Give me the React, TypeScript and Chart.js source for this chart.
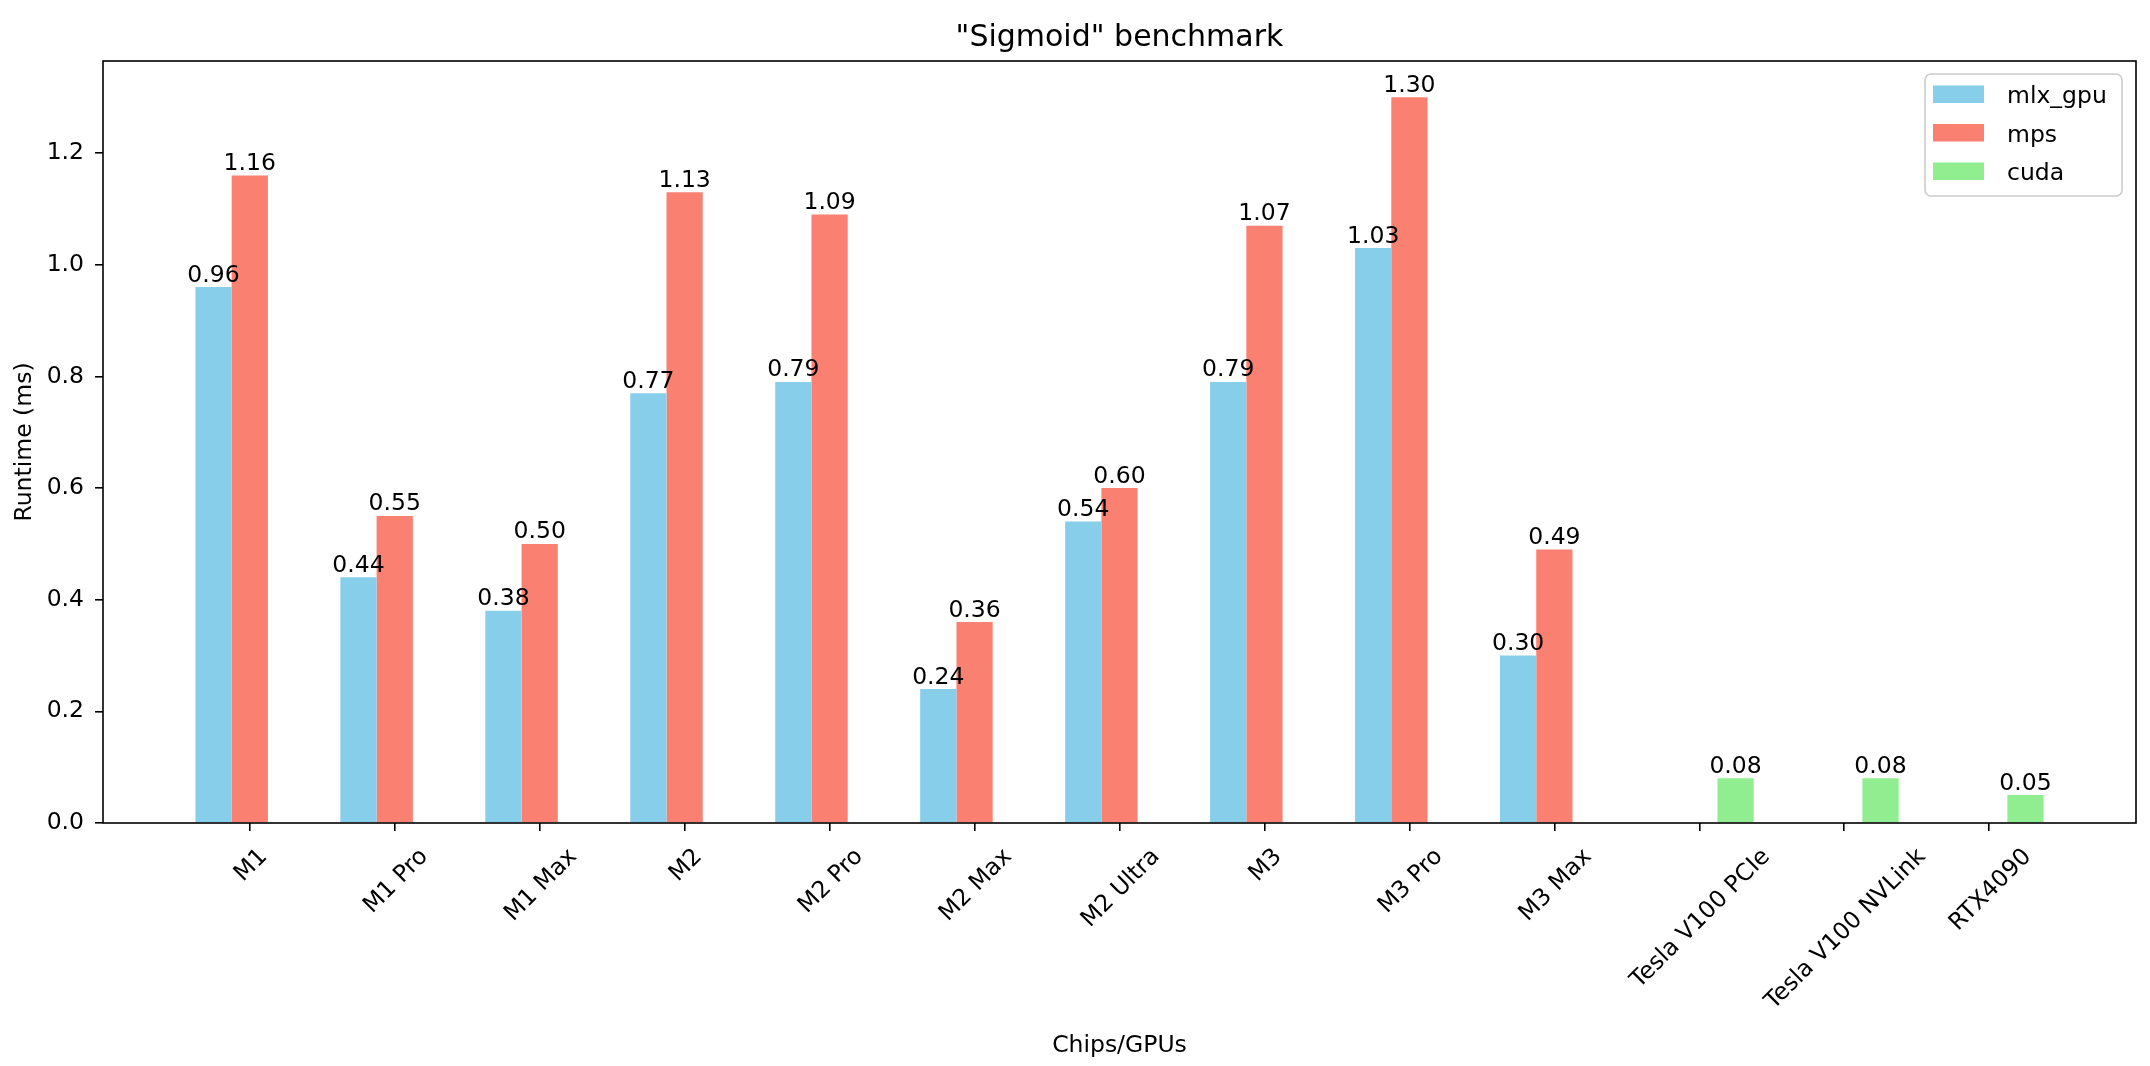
import React, { useRef, useEffect } from 'react';
import { Chart, registerables } from 'chart.js';
Chart.register(...registerables);

const categories = [
  'M1', 'M1 Pro', 'M1 Max', 'M2', 'M2 Pro', 'M2 Max', 'M2 Ultra',
  'M3', 'M3 Pro', 'M3 Max', 'Tesla V100 PCIe', 'Tesla V100 NVLink', 'RTX4090',
];
const mlxGpu = [0.96, 0.44, 0.38, 0.77, 0.79, 0.24, 0.54, 0.79, 1.03, 0.30, null, null, null];
const mps = [1.16, 0.55, 0.50, 1.13, 1.09, 0.36, 0.60, 1.07, 1.30, 0.49, null, null, null];
const cuda = [null, null, null, null, null, null, null, null, null, null, 0.08, 0.08, 0.05];
const yTicks = [0, 0.2, 0.4, 0.6, 0.8, 1.0, 1.2];

const FAMILY = '"DejaVu Sans"';
const FS = 23.5;
const FONT = `${FS}px ${FAMILY}`;

const toPoints = (arr: (number | null)[]) => arr.map((y, i) => ({ x: i, y }));

// подписи, рамка, заголовки и легенда — рисуем сами, как в matplotlib
const overlay = {
  id: 'overlay',
  afterDraw(chart: any) {
    const { ctx, chartArea: a, scales } = chart;
    ctx.save();
    ctx.fillStyle = '#000';

    // значения над столбцами
    ctx.font = FONT;
    ctx.textAlign = 'center';
    ctx.textBaseline = 'alphabetic';
    chart.data.datasets.forEach((ds: any, di: number) => {
      const meta = chart.getDatasetMeta(di);
      meta.data.forEach((bar: any, i: number) => {
        const v = ds.data[i].y;
        if (v == null) return;
        ctx.fillText(v.toFixed(2), bar.x, bar.y - 5.5);
      });
    });

    // рамка осей
    ctx.strokeStyle = '#000';
    ctx.lineWidth = 1.6;
    ctx.strokeRect(a.left, a.top, a.right - a.left, a.bottom - a.top);

    // повернутые подписи оси X (центр по тику)
    const y0 = a.bottom + 8 + 11;
    categories.forEach((c, i) => {
      const px = scales.x.getPixelForValue(i);
      const w = ctx.measureText(c).width;
      const half = ((w + 1.164 * FS) * Math.SQRT1_2) / 2;
      ctx.save();
      ctx.translate(px, y0 + half);
      ctx.rotate(-Math.PI / 4);
      ctx.textAlign = 'center';
      ctx.fillText(c, 0, 0.346 * FS);
      ctx.restore();
    });

    // заголовок и подписи осей
    const cx = (a.left + a.right) / 2;
    ctx.textAlign = 'center';
    ctx.fillText('Chips/GPUs', cx, 1052);
    ctx.save();
    ctx.translate(31, (a.top + a.bottom) / 2);
    ctx.rotate(-Math.PI / 2);
    ctx.fillText('Runtime (ms)', 0, 0);
    ctx.restore();
    ctx.font = `30px ${FAMILY}`;
    ctx.fillText('"Sigmoid" benchmark', cx, 46);

    // легенда
    ctx.beginPath();
    ctx.roundRect(1925, 74, 197, 122, 6);
    ctx.fillStyle = 'rgba(255,255,255,0.8)';
    ctx.fill();
    ctx.strokeStyle = '#cccccc';
    ctx.lineWidth = 1.6;
    ctx.stroke();
    ctx.font = FONT;
    ctx.textAlign = 'left';
    chart.data.datasets.forEach((ds: any, k: number) => {
      const base = 103 + k * 38.5;
      ctx.fillStyle = ds.backgroundColor;
      ctx.fillRect(1933, base - 17.5, 51, 17.5);
      ctx.fillStyle = '#000';
      ctx.fillText(ds.label, 2007, base);
    });

    ctx.restore();
  },
};

const App: React.FC = () => {
  const canvasRef = useRef<HTMLCanvasElement>(null);
  const chartRef = useRef<Chart | null>(null);

  useEffect(() => {
    if (!canvasRef.current) return;
    if (chartRef.current) chartRef.current.destroy();
    const ctx = canvasRef.current.getContext('2d');
    if (!ctx) return;

    const yMax = Math.max(...(mps as number[]).filter((v) => v != null)) * 1.05;

    chartRef.current = new Chart(ctx, {
      type: 'bar',
      data: {
        datasets: [
          { label: 'mlx_gpu', data: toPoints(mlxGpu), backgroundColor: '#87CEEB' },
          { label: 'mps', data: toPoints(mps), backgroundColor: '#FA8072' },
          { label: 'cuda', data: toPoints(cuda), backgroundColor: '#90EE90' },
        ] as any,
      },
      options: {
        responsive: false,
        devicePixelRatio: 1,
        animation: false,
        layout: { padding: { left: 0, right: 14, top: 61, bottom: 0 } },
        datasets: { bar: { categoryPercentage: 0.75, barPercentage: 1, borderWidth: 0 } },
        plugins: { legend: { display: false }, tooltip: { enabled: false }, title: { display: false } },
        scales: {
          x: {
            type: 'linear',
            min: -1.0125,
            max: 13.0125,
            offset: false,
            afterBuildTicks: (s: any) => {
              s.ticks = categories.map((_, i) => ({ value: i }));
            },
            afterFit: (s: any) => {
              s.height = 243;
            },
            ticks: { display: false },
            grid: {
              offset: false,
              drawOnChartArea: false,
              drawTicks: true,
              tickLength: 8,
              color: '#000',
              lineWidth: 1.6,
            },
            border: { display: false },
          },
          y: {
            min: 0,
            max: yMax,
            afterBuildTicks: (s: any) => {
              s.ticks = yTicks.map((v) => ({ value: v }));
            },
            afterFit: (s: any) => {
              s.width = 103;
            },
            ticks: {
              font: { family: 'DejaVu Sans', size: FS },
              color: '#000',
              padding: 11,
              callback: (v: any) => Number(v).toFixed(1),
            },
            grid: { drawOnChartArea: false, drawTicks: true, tickLength: 8, color: '#000', lineWidth: 1.6 },
            border: { display: false },
          },
        },
      },
      plugins: [overlay],
    });

    return () => {
      chartRef.current?.destroy();
      chartRef.current = null;
    };
  }, []);

  return (
    <div style={{ position: 'absolute', left: 0, top: 0, width: 2150, height: 1066, background: '#fff' }}>
      <canvas ref={canvasRef} width={2150} height={1066}></canvas>
    </div>
  );
};

export default App;
